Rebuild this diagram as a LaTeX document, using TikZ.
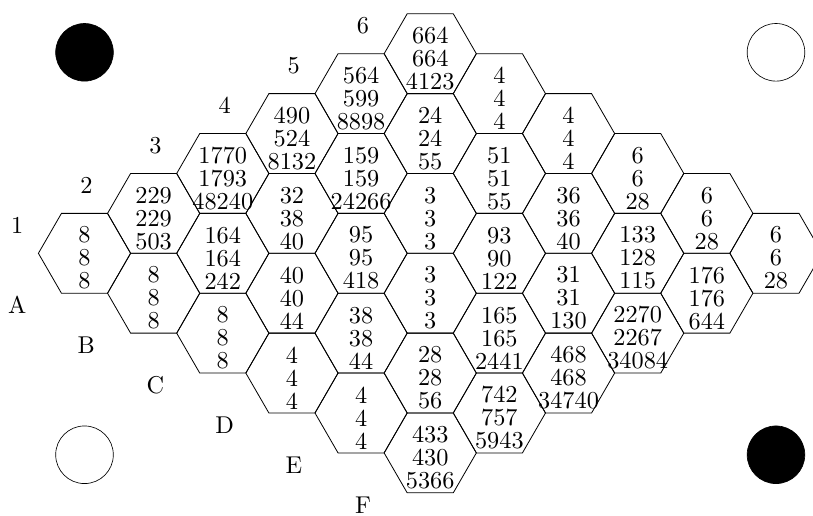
\documentclass[tikz,border=0pt]{standalone}
\usepackage{amsmath}
\usepackage{tikz}

\begin{document}
\begin{tikzpicture}[
		cellnum/.style = {align=center, inner sep=0pt, yshift=-0.105cm, font=\fontsize{10pt}{9.47pt}\selectfont, scale=1.5, transform shape},
		boardlabel/.style = {inner sep=0pt, xshift=0.04cm, yshift=-0.26cm, font=\fontsize{10pt}{12pt}\selectfont, scale=1.5, transform shape},
		cell/.style = {line width=0.5pt}
	]
		\clip (-1.833,-5.698) rectangle (15.803,5.495);
		% board, one row of cells after the other
		\foreach \row/\vals [count=\r from 0] in {
				A/{8/8/8, 229/229/503, 1770/1793/48240, 490/524/8132, 564/599/8898, 664/664/4123},
				B/{8/8/8, 164/164/242, 32/38/40, 159/159/24266, 24/24/55, 4/4/4},
				C/{8/8/8, 40/40/44, 95/95/418, 3/3/3, 51/51/55, 4/4/4},
				D/{4/4/4, 38/38/44, 3/3/3, 93/90/122, 36/36/40, 6/6/28},
				E/{4/4/4, 28/28/56, 165/165/2441, 31/31/130, 133/128/115, 6/6/28},
				F/{433/430/5366, 742/757/5943, 468/468/34740, 2270/2267/34084, 176/176/644, 6/6/28}} {
			\foreach \a/\b/\d [count=\c] in \vals {
				\draw[cell, shift={({1.5*(\r+\c-1)},{0.866*(\c-1-\r)})}]
					(0:1) -- (60:1) -- (120:1) -- (180:1) -- (240:1) -- (300:1) -- cycle;
				\node[cellnum] (\row\c) at ({1.5*(\r+\c-1)},{0.866*(\c-1-\r)}) {\a\\\b\\\d};
			}
			\node[boardlabel] (lab\row) at ({1.5*(\r-1)},{-0.866*(\r+1)}) {\row};
		}
		\foreach \c in {1,...,6}
			\node[boardlabel] (lab\c) at ({1.5*(\c-2)},{0.866*\c}) {\c};
		% corner stones
		\filldraw (0,4.36) circle (0.625);
		\draw (15,4.36) circle (0.625);
		\draw (0,-4.37) circle (0.625);
		\filldraw (15,-4.37) circle (0.625);
	\end{tikzpicture}
\end{document}
